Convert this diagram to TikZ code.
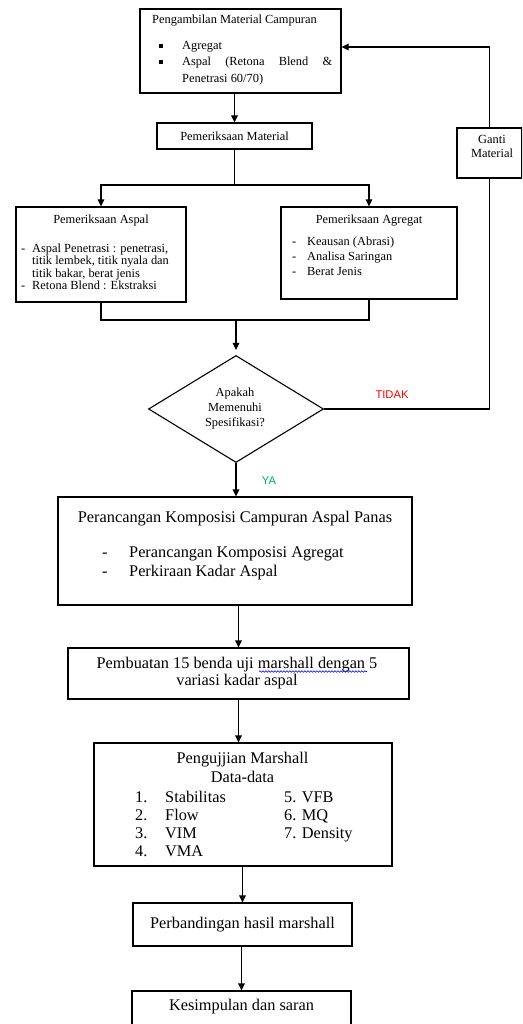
\documentclass[tikz,border=0pt]{standalone}
\usepackage{fontspec}
\setmainfont{Liberation Serif}
\newfontfamily\jawabfont{Liberation Sans}
\usetikzlibrary{arrows.meta,shapes.geometric,decorations.pathmorphing}
\definecolor{yagreen}{RGB}{0,176,80}

\begin{document}
\begin{tikzpicture}[x=1pt,y=-1pt,
  box/.style={draw,line width=1.1pt,inner sep=0pt},
  bullet/.style={fill,inner sep=0pt,minimum size=3.6pt},
  small/.style={font=\fontsize{12.4}{12.4}\selectfont,inner sep=0pt},
  big/.style={font=\fontsize{16.3}{19}\selectfont,inner sep=0pt},
  flow/.style={line width=1.1pt,-{Triangle[length=7pt,width=6.5pt]}},
  link/.style={line width=1.1pt},
  jawab/.style={font=\jawabfont\fontsize{11.2}{12}\selectfont,inner sep=0pt}]
  \useasboundingbox (0,0) rectangle (522,1024);
  \clip (0,0) rectangle (522,1024);

  % bahan
  \node[box,minimum width=201pt,minimum height=84pt] (ambil) at (240.5,51) {};
  \node[small,anchor=base west] (ambiltitle) at (152,24) {Pengambilan Material Campuran};
  \node[bullet] (dot1) at (161,46) {};
  \node[bullet] (dot2) at (161,62) {};
  \node[small,anchor=base west] (ambil1) at (182,50) {Agregat};
  \node[small,anchor=base west,font=\fontsize{12.4}{16.5}\selectfont] (ambil2) at (182,66)
    {\parbox[t]{150pt}{\hyphenpenalty=10000\hbadness=10000 Aspal (Retona Blend \& Penetrasi 60/70)}};

  \node[box,small,minimum width=155pt,minimum height=26pt] (periksa) at (234.5,136) {Pemeriksaan Material};

  \node[box,minimum width=170pt,minimum height=95pt] (aspal) at (101,254.5) {};
  \node[small,anchor=base] (aspaltitle) at (101,223.5) {Pemeriksaan Aspal};
  \node[small,anchor=base west] (aspallist) at (21,252.5) {\begin{tabular}[t]{@{}p{11pt}@{}l@{}}
    - & Aspal Penetrasi : penetrasi,\\
      & titik lembek, titik nyala dan\\
      & titik bakar, berat jenis\\
    - & Retona Blend : Ekstraksi
  \end{tabular}};

  \node[box,minimum width=176pt,minimum height=92pt] (agregat) at (369,253) {};
  \node[small,anchor=base] (agregattitle) at (369,223.5) {Pemeriksaan Agregat};
  \node[small,anchor=base west,font=\fontsize{12.4}{15}\selectfont] (agregatlist) at (292,245.5) {\begin{tabular}[t]{@{}p{15pt}@{}l@{}}
    - & Keausan (Abrasi)\\
    - & Analisa Saringan\\
    - & Berat Jenis
  \end{tabular}};

  \node[box,minimum width=65pt,minimum height=50pt] (ganti) at (489.5,153) {};
  \node[small,anchor=base,font=\fontsize{12.4}{14}\selectfont] (gantitext) at (492,143.5)
    {\begin{tabular}[t]{@{}c@{}}Ganti\\Material\end{tabular}};

  % keputusan
  \node[draw,line width=1.1pt,diamond,aspect=1.64,minimum width=175pt,minimum height=107pt,inner sep=0pt] (cek) at (236,409) {};
  \node[small,anchor=base,font=\fontsize{12.4}{15}\selectfont] (cektext) at (235,396.5)
    {\begin{tabular}[t]{@{}c@{}}Apakah\\Memenuhi\\Spesifikasi?\end{tabular}};
  \node[jawab,text=red] (tidak) at (392,395) {TIDAK};
  \node[jawab,text=yagreen] (ya) at (269,481) {YA};

  % campuran
  \node[box,minimum width=354pt,minimum height=108pt] (rancang) at (235,551) {};
  \node[big,anchor=base] (rancangtitle) at (235,522) {Perancangan Komposisi Campuran Aspal Panas};
  \node[big,anchor=base west] (rancanglist) at (102,557) {\begin{tabular}[t]{@{}p{27pt}@{}l@{}}
    - & Perancangan Komposisi Agregat\\
    - & Perkiraan Kadar Aspal
  \end{tabular}};

  \node[box,minimum width=341pt,minimum height=51pt] (buat) at (238.5,673.5) {};
  \node[big,anchor=base,font=\fontsize{16.3}{17}\selectfont] (buattext) at (237,668)
    {\begin{tabular}[t]{@{}c@{}}Pembuatan 15 benda uji marshall dengan 5\\variasi kadar aspal\end{tabular}};
  \coordinate (ejaan1) at (259,671.5);
  \coordinate (ejaan2) at (367,671.5);
  \draw[blue,line width=0.6pt,decorate,decoration={snake,amplitude=0.8pt,segment length=3pt}] (ejaan1) -- (ejaan2);

  \node[box,minimum width=298pt,minimum height=123pt] (uji) at (243,804.5) {};
  \node[big,anchor=base] (ujititle) at (242.5,763)
    {\begin{tabular}[t]{@{}c@{}}Pengujjian Marshall\\Data-data\end{tabular}};
  \node[big,anchor=base west,font=\fontsize{16.3}{18.3}\selectfont] (ujilist1) at (135,802) {\begin{tabular}[t]{@{}p{30pt}@{}l@{}}
    1. & Stabilitas\\
    2. & Flow\\
    3. & VIM\\
    4. & VMA
  \end{tabular}};
  \node[big,anchor=base west,font=\fontsize{16.3}{18.3}\selectfont] (ujilist2) at (284,802) {\begin{tabular}[t]{@{}l@{}}
    5. VFB\\
    6. MQ\\
    7. Density
  \end{tabular}};

  \node[box,big,minimum width=219pt,minimum height=43pt] (banding) at (242.5,924.5) {Perbandingan hasil marshall};
  \node[box,minimum width=219pt,minimum height=50pt] (simpul) at (241.5,1016) {};
  \node[big,anchor=base] (simpultext) at (241.5,1010) {Kesimpulan dan saran};

  % garis
  \draw[flow] (periksa.north |- ambil.south) -- (periksa.north);
  \coordinate (bagi) at (periksa.south |- 0,185);
  \draw[link] (periksa.south) -- (bagi);
  \draw[flow] (bagi) -| (aspal.north);
  \draw[flow] (bagi) -| (agregat.north);
  \coordinate (gabung) at (236,320);
  \draw[link] (aspal.south) |- (gabung) -| (agregat.south);
  \draw[flow,shorten >=5pt] (gabung) -- (cek.north);
  \draw[flow] (cek.south) -- (cek.south |- rancang.north);
  \draw[link] (cek.east) -| (ganti.south);
  \draw[flow] (ganti.north) |- ([yshift=4pt]ambil.east);
  \draw[flow] (buat.north |- rancang.south) -- (buat.north);
  \draw[flow] (buat.south) -- (buat.south |- uji.north);
  \draw[flow] (banding.north |- uji.south) -- (banding.north);
  \draw[flow] (simpul.north |- banding.south) -- (simpul.north);
\end{tikzpicture}
\end{document}
